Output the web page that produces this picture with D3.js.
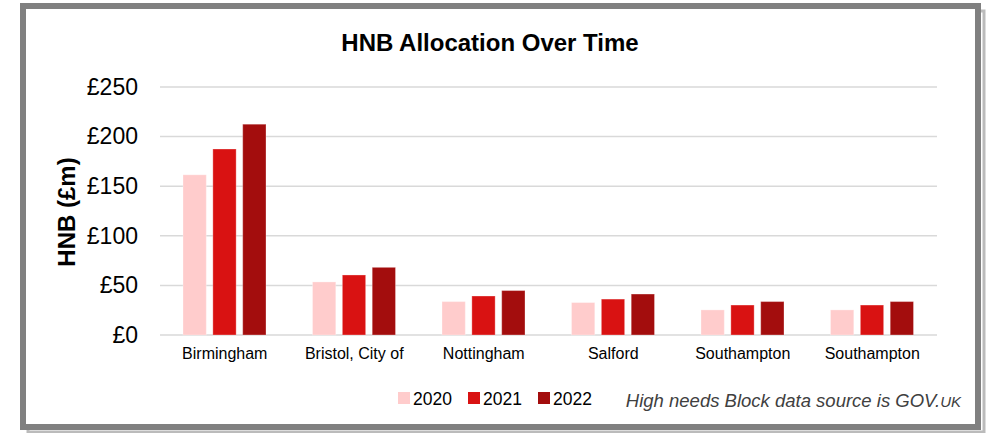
<!DOCTYPE html>
<html><head><meta charset="utf-8">
<script src="https://cdn.jsdelivr.net/npm/d3@7/dist/d3.min.js"></script>
<style>body{margin:0;background:#fff;}svg{display:block;font-family:"Liberation Sans",Arial,sans-serif;}</style>
</head><body>
<svg id="c" width="992" height="433"></svg>
<script>
const categories = ["Birmingham","Bristol, City of","Nottingham","Salford","Southampton","Southampton"];
const years = ["2020","2021","2022"];
const v2020 = [161.5, 53.5, 33.7, 32.7, 25.3, 25.3];
const v2021 = [187.5, 60.5, 39.3, 36.2, 30.2, 30.2];
const v2022 = [212.5, 68.2, 44.8, 41.3, 33.7, 33.7];
const yTicks = [0, 50, 100, 150, 200, 250];
const colors = ["#FFCCCC", "#D91212", "#A30D0D"];

const series = [v2020, v2021, v2022];
const svg = d3.select("#c");
const FF = "Liberation Sans, Arial, sans-serif";

// frame
svg.append("rect").attr("x", 26).attr("y", 9).attr("width", 956).attr("height", 421)
  .attr("fill", "none").attr("stroke", "#bbb").attr("stroke-width", 3).attr("transform","translate(2,2)");
svg.append("rect").attr("x", 23).attr("y", 6).attr("width", 955).attr("height", 421)
  .attr("fill", "#fff").attr("stroke", "#808080").attr("stroke-width", 6);

const x = d3.scaleBand().domain(d3.range(categories.length)).range([160, 937]).paddingInner(0).paddingOuter(0);
const xi = d3.scaleBand().domain(d3.range(years.length)).range([23, 106]).paddingInner(0.22);
const y = d3.scaleLinear().domain([0, 250]).range([335, 87]);

// gridlines
svg.append("g").selectAll("line").data(yTicks).join("line")
  .attr("x1", 160).attr("x2", 937)
  .attr("y1", d => y(d)).attr("y2", d => y(d))
  .attr("stroke", "#D9D9D9").attr("stroke-width", 1.5);

// y axis labels
const yAxis = d3.axisLeft(y).tickValues(yTicks).tickFormat(d => "£" + d).tickSize(0).tickPadding(0);
const ga = svg.append("g").attr("transform", "translate(138,0)").call(yAxis);
ga.select(".domain").remove();
ga.selectAll("text").attr("font-size", 23).attr("fill", "#000").attr("font-family", FF);

// bars
const groups = svg.append("g").selectAll("g").data(categories).join("g")
  .attr("transform", (d, i) => `translate(${x(i)},0)`);
groups.selectAll("rect").data((d, i) => series.map((s, k) => ({k, v: s[i]}))).join("rect")
  .attr("x", d => xi(d.k)).attr("width", xi.bandwidth())
  .attr("y", d => y(d.v)).attr("height", d => y(0) - y(d.v))
  .attr("fill", d => colors[d.k]).attr("stroke", "#fff").attr("stroke-opacity", 0.3).attr("stroke-width", 1);

// x labels
const xAxis = d3.axisBottom(x).tickFormat(i => categories[i]).tickSize(0).tickPadding(13);
const gx = svg.append("g").attr("transform", `translate(0,${y(0)})`).call(xAxis);
gx.select(".domain").remove();
gx.selectAll("text").attr("font-size", 16).attr("fill", "#000").attr("font-family", FF);

// title
svg.append("text").attr("x", 490).attr("y", 51).attr("text-anchor", "middle")
  .attr("font-size", 24).attr("font-weight", "bold").text("HNB Allocation Over Time");

// y title
svg.append("text").attr("transform", "translate(75,212) rotate(-90)").attr("text-anchor", "middle")
  .attr("font-size", 24).attr("font-weight", "bold").text("HNB (£m)");

// legend
const legX = [398, 468, 538];
const leg = svg.append("g").selectAll("g").data(years).join("g")
  .attr("transform", (d, i) => `translate(${legX[i]},398)`);
leg.append("rect").attr("x", 0).attr("y", -6).attr("width", 12).attr("height", 12).attr("fill", (d, i) => colors[i]);
leg.append("text").attr("x", 15).attr("y", 6.5).attr("font-size", 17.5).text(d => d);

// note
const note = svg.append("text").attr("x", 961).attr("y", 407).attr("text-anchor", "end")
  .attr("font-size", 18.5).attr("font-style", "italic").attr("fill", "#404040");
note.append("tspan").text("High needs Block data source is GOV.");
note.append("tspan").attr("font-size", 15).text("UK");
</script>
</body></html>
